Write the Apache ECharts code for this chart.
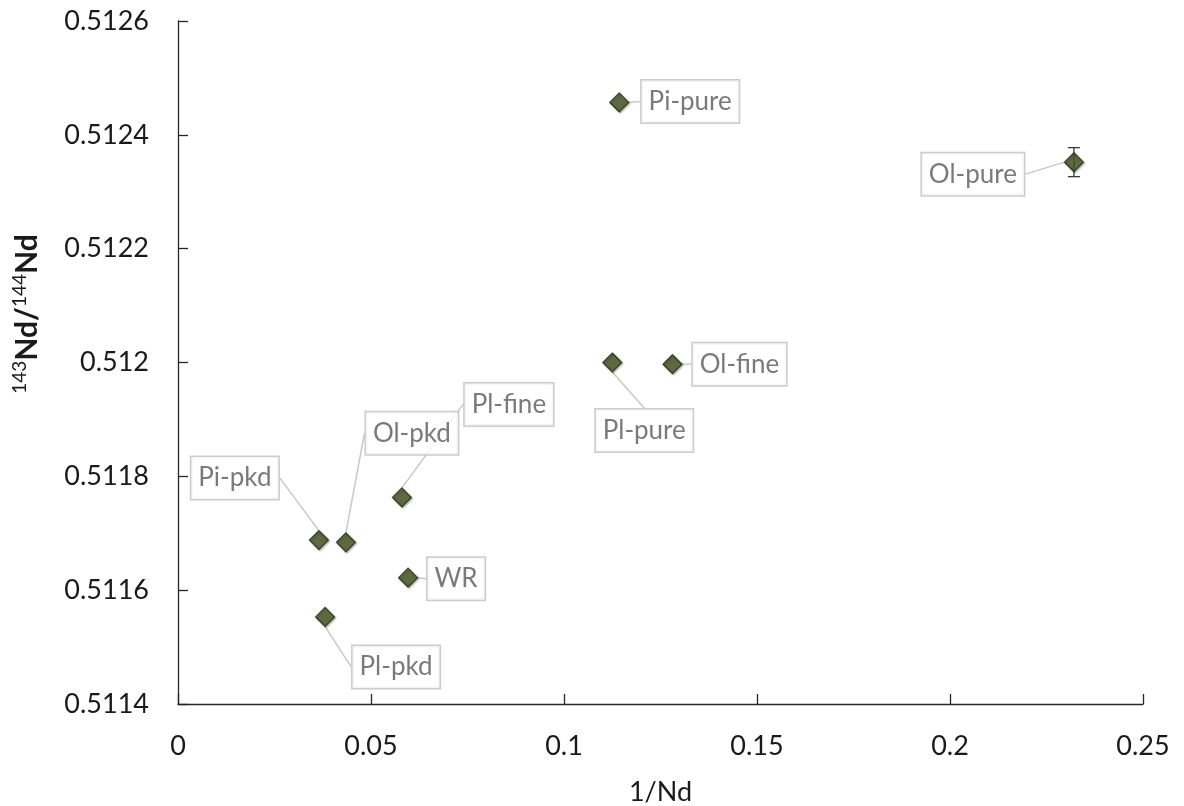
<!DOCTYPE html>
<html>
<head>
<meta charset="utf-8">
<script src="https://cdn.jsdelivr.net/npm/echarts@6/dist/echarts.min.js"></script>
<style>
html,body{margin:0;padding:0;background:#fff;}
#chart{width:1184px;height:806px;}
</style>
</head>
<body>
<div id="chart"></div>
<script>
// ---- data ----
var sampleNames = ['Pi-pure', 'Ol-pure', 'Pl-pure', 'Ol-fine', 'Pl-fine', 'Ol-pkd', 'Pi-pkd', 'WR', 'Pl-pkd'];
var invNd = [0.1143, 0.2321, 0.1125, 0.1281, 0.0580, 0.0435, 0.0365, 0.0596, 0.0381];
var ndRatio = [0.512457, 0.512352, 0.512000, 0.511997, 0.511763, 0.511684, 0.511688, 0.511622, 0.511553];
var ndError = [0, 0.0000255, 0, 0, 0, 0, 0, 0, 0];
var xTicks = [0, 0.05, 0.1, 0.15, 0.2, 0.25];
var yTicks = [0.5114, 0.5116, 0.5118, 0.512, 0.5122, 0.5124, 0.5126];
var xTitle = '1/Nd';
var yTitle = '{sup|143}{b|Nd/}{sup|144}{b|Nd}';

// label offsets (layout only)
var labelOffsets = [[71, -1], [-101, 12], [32, 68], [67, 0], [107, -93], [66, -109], [-84, -62], [48, 1], [71, 50]];

var points = sampleNames.map(function (n, i) { return { name: n, value: [invNd[i], ndRatio[i]] }; });
var errData = sampleNames.map(function (n, i) { return [invNd[i], ndRatio[i], ndError[i]]; });

var FONT = 'Lato, "Liberation Sans", sans-serif';
var chart = echarts.init(document.getElementById('chart'), null, { renderer: 'canvas' });
chart.setOption({
  animation: false,
  backgroundColor: '#ffffff',
  grid: { left: 178, top: 21, right: 41, bottom: 102, containLabel: false, outerBoundsMode: 'none' },
  graphic: [{
    type: 'text',
    x: 27, y: 314,
    rotation: Math.PI / 2,
    style: {
      text: yTitle,
      align: 'center',
      verticalAlign: 'middle',
      fill: '#1a1a1a',
      rich: {
        sup: { fontFamily: FONT, fontSize: 19, fill: '#1a1a1a', verticalAlign: 'top', lineHeight: 34, padding: [0, 0, 12, 0] },
        b: { fontFamily: FONT, fontSize: 30, fontWeight: 'bold', fill: '#1a1a1a', lineHeight: 34 }
      }
    }
  }],
  xAxis: {
    type: 'value',
    min: xTicks[0], max: xTicks[xTicks.length - 1], interval: 0.05,
    name: xTitle, nameLocation: 'middle', nameGap: 75,
    nameTextStyle: { fontFamily: FONT, fontSize: 27, color: '#1a1a1a' },
    axisLine: { show: true, lineStyle: { color: '#262626', width: 1.3 } },
    axisTick: { show: true, inside: true, length: 10, lineStyle: { color: '#262626', width: 1.3 } },
    axisLabel: { fontFamily: FONT, fontSize: 27, color: '#1a1a1a', margin: 29,
      formatter: function (v) { return String(+v.toFixed(2)); } },
    splitLine: { show: false }
  },
  yAxis: {
    type: 'value',
    min: yTicks[0], max: yTicks[yTicks.length - 1], interval: 0.0002,
    axisLine: { show: true, lineStyle: { color: '#262626', width: 1.3 } },
    axisTick: { show: true, inside: true, length: 10, lineStyle: { color: '#262626', width: 1.3 } },
    axisLabel: { fontFamily: FONT, fontSize: 27, color: '#1a1a1a', margin: 29,
      formatter: function (v) { return String(+v.toFixed(4)); } },
    splitLine: { show: false }
  },
  series: [
    {
      type: 'custom',
      z: 1,
      data: errData,
      renderItem: function (params, api) {
        var e = api.value(2);
        if (!e) return null;
        var x = api.value(0), y = api.value(1);
        var top = api.coord([x, y + e]);
        var bot = api.coord([x, y - e]);
        var hw = 6;
        var st = { stroke: '#3a3a3a', lineWidth: 1.3 };
        return {
          type: 'group',
          children: [
            { type: 'line', shape: { x1: top[0], y1: top[1], x2: bot[0], y2: bot[1] }, style: st },
            { type: 'line', shape: { x1: top[0] - hw, y1: top[1], x2: top[0] + hw, y2: top[1] }, style: st },
            { type: 'line', shape: { x1: bot[0] - hw, y1: bot[1], x2: bot[0] + hw, y2: bot[1] }, style: st }
          ]
        };
      }
    },
    {
      type: 'scatter',
      z: 3,
      symbol: 'diamond',
      symbolSize: 19,
      itemStyle: { color: '#435720', borderColor: '#202b0e', borderWidth: 1.2,
        shadowColor: 'rgba(0,0,0,0.35)', shadowBlur: 2, shadowOffsetX: 1, shadowOffsetY: 1 },
      data: points,
      label: {
        show: true,
        position: 'inside',
        formatter: '{b}',
        fontFamily: FONT,
        fontSize: 26,
        color: '#595959',
        backgroundColor: '#ffffff',
        borderColor: '#bfbfbf',
        borderWidth: 1.5,
        padding: [7, 7, 5, 7],
        lineHeight: 30
      },
      labelLine: { show: true, lineStyle: { color: '#c8c8c8', width: 1.5 } },
      labelLayout: function (params) {
        var o = labelOffsets[params.dataIndex];
        return { dx: o[0], dy: o[1], hideOverlap: false };
      }
    }
  ]
});
</script>
</body>
</html>
